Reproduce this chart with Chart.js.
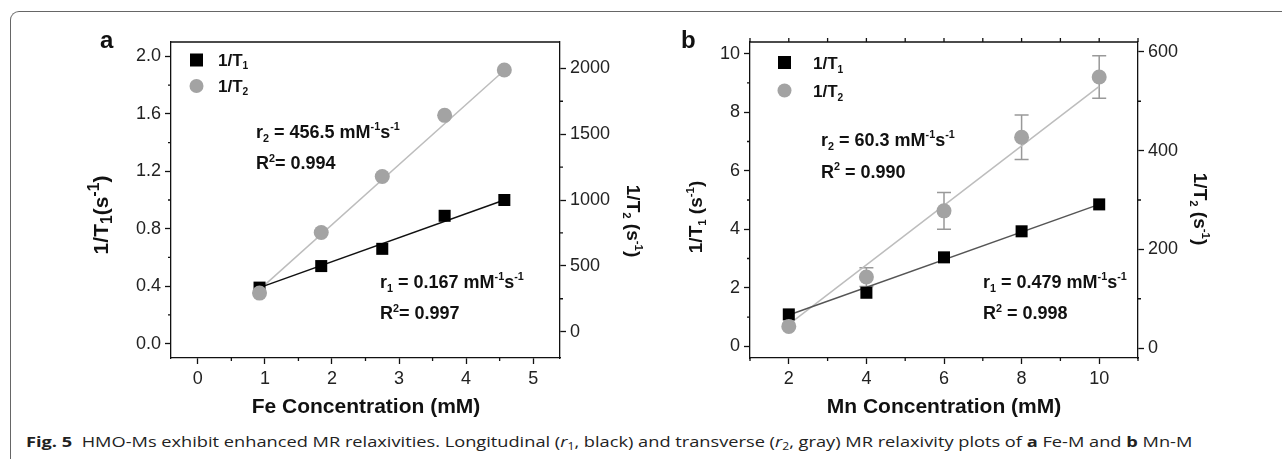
<!DOCTYPE html>
<html>
<head>
<meta charset="utf-8">
<script src="https://cdn.jsdelivr.net/npm/chart.js@4.4.0/dist/chart.umd.min.js"></script>
<style>
  body { margin: 0; background: #fff; width: 1282px; height: 459px; overflow: hidden; position: relative; }
  #frame { position: absolute; left: 10px; top: 11px; width: 1400px; height: 600px; border-left: 1.3px solid #666; border-top: 1.3px solid #666; border-top-left-radius: 9px; }
  canvas { position: absolute; top: 0; }
  #ca { left: 0; }
  #cb { left: 640px; }
  #cap { position: absolute; left: 26px; top: 433px; font-family: "Open Sans", sans-serif; font-size: 15px; line-height: 16px; white-space: nowrap; color: #222; transform-origin: 0 50%; }
  #cap sub { font-size: 10px; vertical-align: -3px; line-height: 0; }
</style>
</head>
<body>
<div id="frame"></div>
<canvas id="ca" width="660" height="430"></canvas>
<canvas id="cb" width="642" height="430"></canvas>
<div id="cap"><b>Fig. 5</b>&nbsp; HMO-Ms exhibit enhanced MR relaxivities. Longitudinal (<i>r</i><sub>1</sub>, black) and transverse (<i>r</i><sub>2</sub>, gray) MR relaxivity plots of <b>a</b> Fe-M and <b>b</b> Mn-M</div>
<script>
// panel a: Fe-M
const feConc = [0.92, 1.84, 2.75, 3.68, 4.57];
const feR1 = [0.39, 0.54, 0.66, 0.89, 1.00];
const feR2 = [293, 753, 1178, 1643, 1987];
const feFitX = [0.92, 4.57];
const feFitR1 = [0.39, 1.00];
const feFitR2 = [319, 1985];
const feXTicks = [0, 1, 2, 3, 4, 5];
const feY1Ticks = [0, 0.4, 0.8, 1.2, 1.6, 2.0];
const feY2Ticks = [0, 500, 1000, 1500, 2000];
const feXMinor = [0.5, 1.5, 2.5, 3.5, 4.5];
const feY1Minor = [0.2, 0.6, 1.0, 1.4, 1.8];
const feY2Minor = [250, 750, 1250, 1750];

// panel b: Mn-M
const mnConc = [2, 4, 6, 8, 10];
const mnR1 = [1.09, 1.83, 3.04, 3.93, 4.85];
const mnR2 = [44, 144, 278, 427, 549];
const mnR2Err = [0, 19, 37, 45, 43];
const mnFitX = [2, 10];
const mnFitR1 = [1.07, 4.85];
const mnFitR2 = [48, 530];
const mnXTicks = [2, 4, 6, 8, 10];
const mnY1Ticks = [0, 2, 4, 6, 8, 10];
const mnY2Ticks = [0, 200, 400, 600];
const mnXMinor = [1, 3, 5, 7, 9, 11];
const mnY1Minor = [1, 3, 5, 7, 9];
const mnY2Minor = [100, 300, 500];
const mnTopTicks = [1, 2, 3, 4, 5, 6, 7, 8, 9, 10, 11];

const FONT = '"Liberation Sans", Arial, sans-serif';
Chart.defaults.font.family = FONT;

// bold text with sub (-1) / sup (1) pieces; y is the middle of the capitals
function rich(ctx, parts, x, y, size, align, rot, ss) {
  ss = ss || 0.6;
  ctx.save();
  ctx.translate(x, y);
  if (rot) ctx.rotate(rot);
  ctx.textBaseline = 'alphabetic';
  ctx.textAlign = 'left';
  ctx.fillStyle = '#111';
  const w = parts.map(([t, k]) => {
    ctx.font = 'bold ' + (k ? size * ss : size) + 'px ' + FONT;
    return ctx.measureText(t).width;
  });
  let cx = align === 'center' ? -w.reduce((a, b) => a + b, 0) / 2 : 0;
  const base = size * 0.36;
  parts.forEach(([t, k], i) => {
    ctx.font = 'bold ' + (k ? size * ss : size) + 'px ' + FONT;
    const dy = k === -1 ? size * 0.22 : k === 1 ? -size * 0.42 : 0;
    ctx.fillText(t, cx, base + dy);
    cx += w[i];
  });
  ctx.restore();
}

function decor(p) {
  return {
    id: 'decor',
    beforeDatasetsDraw(chart) {
      if (!p.err) return;
      const ctx = chart.ctx, s = chart.scales;
      ctx.save();
      ctx.strokeStyle = '#999';
      ctx.lineWidth = 1.5;
      p.err.x.forEach((xv, i) => {
        const e = p.err.e[i];
        if (!e) return;
        const px = s.x.getPixelForValue(xv);
        const t = s.y2.getPixelForValue(p.err.y[i] + e);
        const b = s.y2.getPixelForValue(p.err.y[i] - e);
        ctx.beginPath();
        ctx.moveTo(px, t); ctx.lineTo(px, b);
        ctx.moveTo(px - 7, t); ctx.lineTo(px + 7, t);
        ctx.moveTo(px - 7, b); ctx.lineTo(px + 7, b);
        ctx.stroke();
      });
      ctx.restore();
    },
    afterDraw(chart) {
      const ctx = chart.ctx, a = chart.chartArea, s = chart.scales;
      ctx.save();
      ctx.strokeStyle = '#111';
      ctx.lineWidth = 1.3;
      ctx.beginPath();
      ctx.moveTo(a.left, a.top); ctx.lineTo(a.right, a.top);
      p.minor.x.forEach(v => { const q = s.x.getPixelForValue(v); ctx.moveTo(q, a.bottom); ctx.lineTo(q, a.bottom + 3); });
      p.minor.y.forEach(v => { const q = s.y.getPixelForValue(v); ctx.moveTo(a.left, q); ctx.lineTo(a.left - 3, q); });
      p.minor.y2.forEach(v => { const q = s.y2.getPixelForValue(v); ctx.moveTo(a.right, q); ctx.lineTo(a.right + 3, q); });
      (p.minor.top || []).forEach(v => { const q = s.x.getPixelForValue(v); ctx.moveTo(q, a.top); ctx.lineTo(q, a.top - 4); });
      ctx.stroke();

      // legend symbols
      const L = p.legend;
      ctx.fillStyle = '#000';
      ctx.fillRect(L.x - p.dx - 6.5, L.y1 - 6.5, 13, 13);
      ctx.fillStyle = '#a3a3a3';
      ctx.beginPath();
      ctx.arc(L.x - p.dx, L.y2, 7, 0, Math.PI * 2);
      ctx.fill();
      ctx.restore();

      p.texts.forEach(t => rich(ctx, t.parts, t.x - p.dx, t.y, t.size, t.align, t.rot, t.ss));
    }
  };
}

function axis(pos, min, max, ticks, fmt, size) {
  return {
    type: 'linear', position: pos, min: min, max: max,
    afterBuildTicks: sc => { sc.ticks = ticks.map(v => ({ value: v })); },
    afterFit: sc => { if (pos === 'bottom') sc.height = size; else sc.width = size; },
    grid: { drawOnChartArea: false, drawTicks: true, tickLength: 6, tickColor: '#111', tickWidth: 1.3 },
    border: { color: '#111', width: 1.3 },
    ticks: { font: { size: 18 }, color: '#222', padding: 4, autoSkip: false, maxRotation: 0, callback: fmt }
  };
}

function pts(xs, ys) { return xs.map((x, i) => ({ x: x, y: ys[i] })); }

function sets(conc, r1, r2, fitX, fit1, fit2, fit1Color) {
  return [
    { data: pts(fitX, fit1), yAxisID: 'y', showLine: true, borderColor: fit1Color, borderWidth: 1.5, pointRadius: 0, order: 3 },
    { data: pts(fitX, fit2), yAxisID: 'y2', showLine: true, borderColor: '#bdbdbd', borderWidth: 1.5, pointRadius: 0, order: 3 },
    { data: pts(conc, r1), yAxisID: 'y', pointStyle: 'rect', pointRadius: 8.5, backgroundColor: '#000', borderWidth: 0, order: 2 },
    { data: pts(conc, r2), yAxisID: 'y2', pointStyle: 'circle', pointRadius: 7.5, backgroundColor: '#a3a3a3', borderWidth: 0, order: 1 }
  ];
}

const base = {
  responsive: false, animation: false, devicePixelRatio: 1,
  plugins: { legend: { display: false }, tooltip: { enabled: false } }
};

new Chart(document.getElementById('ca'), {
  type: 'scatter',
  data: { datasets: sets(feConc, feR1, feR2, feFitX, feFitR1, feFitR2, '#111') },
  options: Object.assign({}, base, {
    layout: { padding: { top: 42, left: 0, right: 0, bottom: 0 } },
    scales: {
      x: axis('bottom', -0.4, 5.4, feXTicks, v => v, 72),
      y: axis('left', -0.1, 2.1, feY1Ticks, v => v.toFixed(1), 171),
      y2: axis('right', -200, 2200, feY2Ticks, v => v, 100)
    }
  }),
  plugins: [decor({
    dx: 0,
    minor: { x: feXMinor, y: feY1Minor, y2: feY2Minor },
    legend: { x: 196.5, y1: 60, y2: 86 },
    texts: [
      { parts: [['a', 0]], x: 100, y: 39.5, size: 24 },
      { parts: [['1/T', 0], ['1', -1]], x: 218, y: 59.5, size: 17 },
      { parts: [['1/T', 0], ['2', -1]], x: 218, y: 85.5, size: 17 },
      { parts: [['r', 0], ['2', -1], [' = 456.5 mM', 0], ['-1', 1], ['s', 0], ['-1', 1]], x: 256, y: 131.5, size: 18 },
      { parts: [['R', 0], ['2', 1], ['= 0.994', 0]], x: 256, y: 163, size: 18 },
      { parts: [['r', 0], ['1', -1], [' = 0.167 mM', 0], ['-1', 1], ['s', 0], ['-1', 1]], x: 380, y: 281.5, size: 18 },
      { parts: [['R', 0], ['2', 1], ['= 0.997', 0]], x: 380, y: 313, size: 18 },
      { parts: [['1/T', 0], ['1', -1], ['(s', 0], ['-1', 1], [')', 0]], x: 100, y: 215, size: 21, align: 'center', rot: -Math.PI / 2, ss: 0.75 },
      { parts: [['1/T', 0], ['2', -1], [' (s', 0], ['-1', 1], [')', 0]], x: 634, y: 221, size: 19, align: 'center', rot: Math.PI / 2 },
      { parts: [['Fe Concentration (mM)', 0]], x: 366, y: 405.5, size: 21, align: 'center' }
    ]
  })]
});

new Chart(document.getElementById('cb'), {
  type: 'scatter',
  data: { datasets: sets(mnConc, mnR1, mnR2, mnFitX, mnFitR1, mnFitR2, '#555') },
  options: Object.assign({}, base, {
    layout: { padding: { top: 42, left: 0, right: 0, bottom: 0 } },
    scales: {
      x: axis('bottom', 1, 11, mnXTicks, v => v, 72),
      y: axis('left', -0.4, 10.4, mnY1Ticks, v => v, 110),
      y2: axis('right', -20, 620, mnY2Ticks, v => v, 144)
    }
  }),
  plugins: [decor({
    dx: 640,
    err: { x: mnConc, y: mnR2, e: mnR2Err },
    minor: { x: mnXMinor, y: mnY1Minor, y2: mnY2Minor, top: mnTopTicks },
    legend: { x: 784.5, y1: 62.5, y2: 90.5 },
    texts: [
      { parts: [['b', 0]], x: 681, y: 39.5, size: 24 },
      { parts: [['1/T', 0], ['1', -1]], x: 813, y: 63, size: 17 },
      { parts: [['1/T', 0], ['2', -1]], x: 813, y: 91, size: 17 },
      { parts: [['r', 0], ['2', -1], [' = 60.3 mM', 0], ['-1', 1], ['s', 0], ['-1', 1]], x: 821, y: 139.5, size: 18 },
      { parts: [['R', 0], ['2', 1], [' = 0.990', 0]], x: 821, y: 171.5, size: 18 },
      { parts: [['r', 0], ['1', -1], [' = 0.479 mM', 0], ['-1', 1], ['s', 0], ['-1', 1]], x: 983, y: 281.5, size: 18 },
      { parts: [['R', 0], ['2', 1], [' = 0.998', 0]], x: 983, y: 313, size: 18 },
      { parts: [['1/T', 0], ['1', -1], [' (s', 0], ['-1', 1], [')', 0]], x: 695, y: 217, size: 19, align: 'center', rot: -Math.PI / 2 },
      { parts: [['1/T', 0], ['2', -1], [' (s', 0], ['-1', 1], [')', 0]], x: 1201, y: 209, size: 19, align: 'center', rot: Math.PI / 2 },
      { parts: [['Mn Concentration (mM)', 0]], x: 944, y: 405.5, size: 21, align: 'center' }
    ]
  })]
});

const cap = document.getElementById('cap');
cap.style.transform = 'scaleX(' + (1166 / cap.offsetWidth) + ')';
</script>
</body>
</html>
